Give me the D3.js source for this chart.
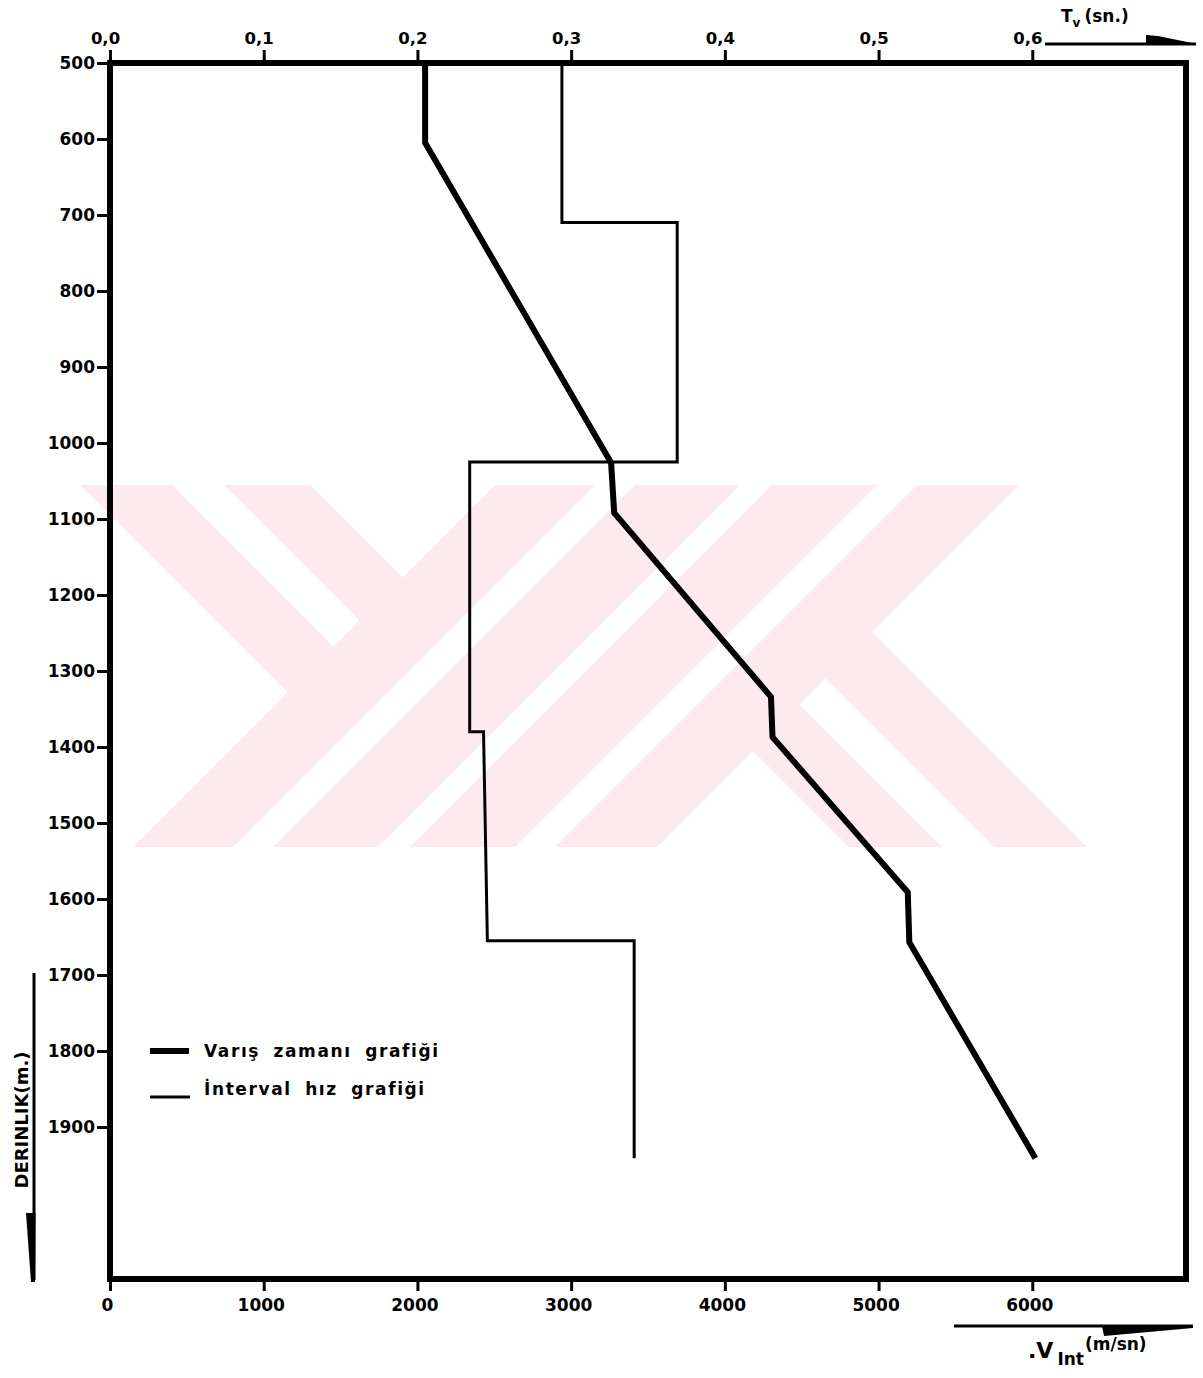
<!DOCTYPE html>
<html><head><meta charset="utf-8">
<script src="https://cdn.jsdelivr.net/npm/d3@7"></script>
<style>
body{margin:0;background:#fff}
svg{display:block}
text{font-family:"DejaVu Sans",sans-serif;font-weight:bold;fill:#000}
</style>
</head><body>
<svg id="c" width="1203" height="1378"></svg>
<script>
// ---------- data ----------
const depthTicks = [500,600,700,800,900,1000,1100,1200,1300,1400,1500,1600,1700,1800,1900];
const timeTicks = [0,0.1,0.2,0.3,0.4,0.5,0.6];
const timeTickLabels = ["0,0","0,1","0,2","0,3","0,4","0,5","0,6"];
const velTicks = [0,1000,2000,3000,4000,5000,6000];
const velTickLabels = ["0","1000","2000","3000","4000","5000","6000"];

// Varış zamanı grafiği (depth m, vertical time s)
const timeDepths = [500, 605, 1026, 1092, 1334, 1387, 1591, 1657, 1941];
const timeValues = [0.205, 0.205, 0.326, 0.328, 0.430, 0.431, 0.519, 0.520, 0.602];

// İnterval hız grafiği (depth m, interval velocity m/s)
const velDepths = [500, 710, 710, 1025, 1025, 1380, 1380, 1655, 1655, 1941];
const velValues = [2940, 2940, 3690, 3690, 2340, 2340, 2430, 2455, 3410, 3410];

const legendLabels = ["Varış zamanı grafiği", "İnterval hız grafiği"];

// ---------- layout ----------
const svg = d3.select("#c");
const X0 = 110, X1 = 1186, Y0 = 63, Y1 = 1279;
const x  = d3.scaleLinear().domain([0, 0.7]).range([X0, X1]);
const xv = d3.scaleLinear().domain([0, 7000]).range([X0, X1]);
const y  = d3.scaleLinear().domain([500, 2100]).range([Y0, Y1]);

// ---------- background watermark (decoration) ----------
(function(){
  const wm = svg.append("g").attr("fill", "#fdeaee");
  const top = 485, bot = 847;
  const slash = [[980,1080],[1120,1225],[1257,1362],[1402,1504]];
  slash.forEach(([s1,s2]) => {
    wm.append("polygon").attr("points",
      [[s1-top,top],[s2-top,top],[s2-bot,bot],[s1-bot,bot]].map(p=>p.join(",")).join(" "));
  });
  const tl = [[-405,-313],[-261,-175]], tlEnd = 1030;
  tl.forEach(([d1,d2]) => {
    wm.append("polygon").attr("points",
      [[d1+top,top],[d2+top,top],[(tlEnd+d2)/2,(tlEnd-d2)/2],[(tlEnd+d1)/2,(tlEnd-d1)/2]].map(p=>p.join(",")).join(" "));
  });
  const br = [[2,95],[147,240]], brEnd = 1452;
  br.forEach(([d1,d2]) => {
    wm.append("polygon").attr("points",
      [[d1+bot,bot],[d2+bot,bot],[(brEnd+d2)/2,(brEnd-d2)/2],[(brEnd+d1)/2,(brEnd-d1)/2]].map(p=>p.join(",")).join(" "));
  });
})();

// ---------- axes ----------
function styleAxis(g, fs){
  g.select(".domain").remove();
  g.selectAll(".tick line").attr("stroke","#000").attr("stroke-width",3);
  g.selectAll(".tick text").attr("font-family","DejaVu Sans, sans-serif")
    .attr("font-weight","bold").attr("font-size",fs).attr("fill","#000");
}
const gTop = svg.append("g").attr("transform",`translate(0,${Y0})`)
  .call(d3.axisTop(x).tickValues(timeTicks).tickSize(13).tickPadding(6)
        .tickFormat((d,i)=>timeTickLabels[i]));
styleAxis(gTop, 16.5);
gTop.selectAll(".tick text").attr("dx", -5);

const gLeft = svg.append("g").attr("transform",`translate(${X0},0)`)
  .call(d3.axisLeft(y).tickValues(depthTicks).tickSize(13).tickPadding(2)
        .tickFormat(d3.format("d")));
styleAxis(gLeft, 17);

const gBot = svg.append("g").attr("transform",`translate(0,${Y1})`)
  .call(d3.axisBottom(xv).tickValues(velTicks).tickSize(12).tickPadding(8)
        .tickFormat((d,i)=>velTickLabels[i]));
styleAxis(gBot, 17);
gBot.selectAll(".tick text").attr("dx", -3);

// ---------- frame ----------
svg.append("rect").attr("x",X0).attr("y",Y0).attr("width",X1-X0).attr("height",Y1-Y0)
  .attr("fill","none").attr("stroke","#000").attr("stroke-width",6);

// ---------- series ----------
const timePts = timeDepths.map((z,i)=>({z, t: timeValues[i]}));
const velPts  = velDepths.map((z,i)=>({z, v: velValues[i]}));

svg.append("path").datum(velPts)
  .attr("d", d3.line().x(d=>xv(d.v)).y(d=>y(d.z)))
  .attr("fill","none").attr("stroke","#000").attr("stroke-width",3).attr("stroke-linejoin","miter");

svg.append("path").datum(timePts)
  .attr("d", d3.line().x(d=>x(d.t)).y(d=>y(d.z)))
  .attr("fill","none").attr("stroke","#000").attr("stroke-width",6).attr("stroke-linejoin","round");

// ---------- legend ----------
const lg = svg.append("g");
lg.append("line").attr("x1",150).attr("x2",189).attr("y1",1051).attr("y2",1051)
  .attr("stroke","#000").attr("stroke-width",6);
lg.append("text").attr("x",204).attr("y",1057).attr("font-size",17)
  .attr("letter-spacing",1.6).attr("word-spacing",6).text(legendLabels[0]);
lg.append("line").attr("x1",150).attr("x2",190).attr("y1",1097).attr("y2",1097)
  .attr("stroke","#000").attr("stroke-width",3);
lg.append("text").attr("x",204).attr("y",1095).attr("font-size",17)
  .attr("letter-spacing",1.6).attr("word-spacing",6).text(legendLabels[1]);

// ---------- axis titles and arrows ----------
// left depth arrow
svg.append("line").attr("x1",34).attr("x2",34).attr("y1",973).attr("y2",1280)
  .attr("stroke","#000").attr("stroke-width",3);
svg.append("polygon").attr("points","26,1213 35.5,1213 35,1282 31,1282").attr("fill","#000");
svg.append("text").attr("transform","translate(28,1120) rotate(-90)")
  .attr("text-anchor","middle").attr("font-size",18).text("DERINLIK(m.)");

// top time arrow
svg.append("line").attr("x1",1045).attr("x2",1196).attr("y1",44).attr("y2",44)
  .attr("stroke","#000").attr("stroke-width",3);
svg.append("polygon").attr("points","1146,35 1158,36 1197,44 1146,45").attr("fill","#000");
const tv = svg.append("text").attr("x",1061).attr("y",22).attr("font-size",17);
tv.append("tspan").text("T");
tv.append("tspan").attr("font-size",12).attr("dy",5).text("v");
tv.append("tspan").attr("dy",-5).attr("dx",4).text("(sn.)");

// bottom velocity arrow
svg.append("line").attr("x1",954).attr("x2",1193).attr("y1",1326).attr("y2",1326)
  .attr("stroke","#000").attr("stroke-width",3);
svg.append("polygon").attr("points","1102,1326 1193,1325 1193,1328 1104,1336").attr("fill","#000");
const vt = svg.append("text").attr("x",1028).attr("y",1358).attr("font-size",22);
vt.append("tspan").text(".V");
vt.append("tspan").attr("font-size",17).attr("dy",7).attr("dx",4).text("Int");
vt.append("tspan").attr("font-size",17).attr("dy",-15).attr("dx",1).text("(m/sn)");
</script>
</body></html>
